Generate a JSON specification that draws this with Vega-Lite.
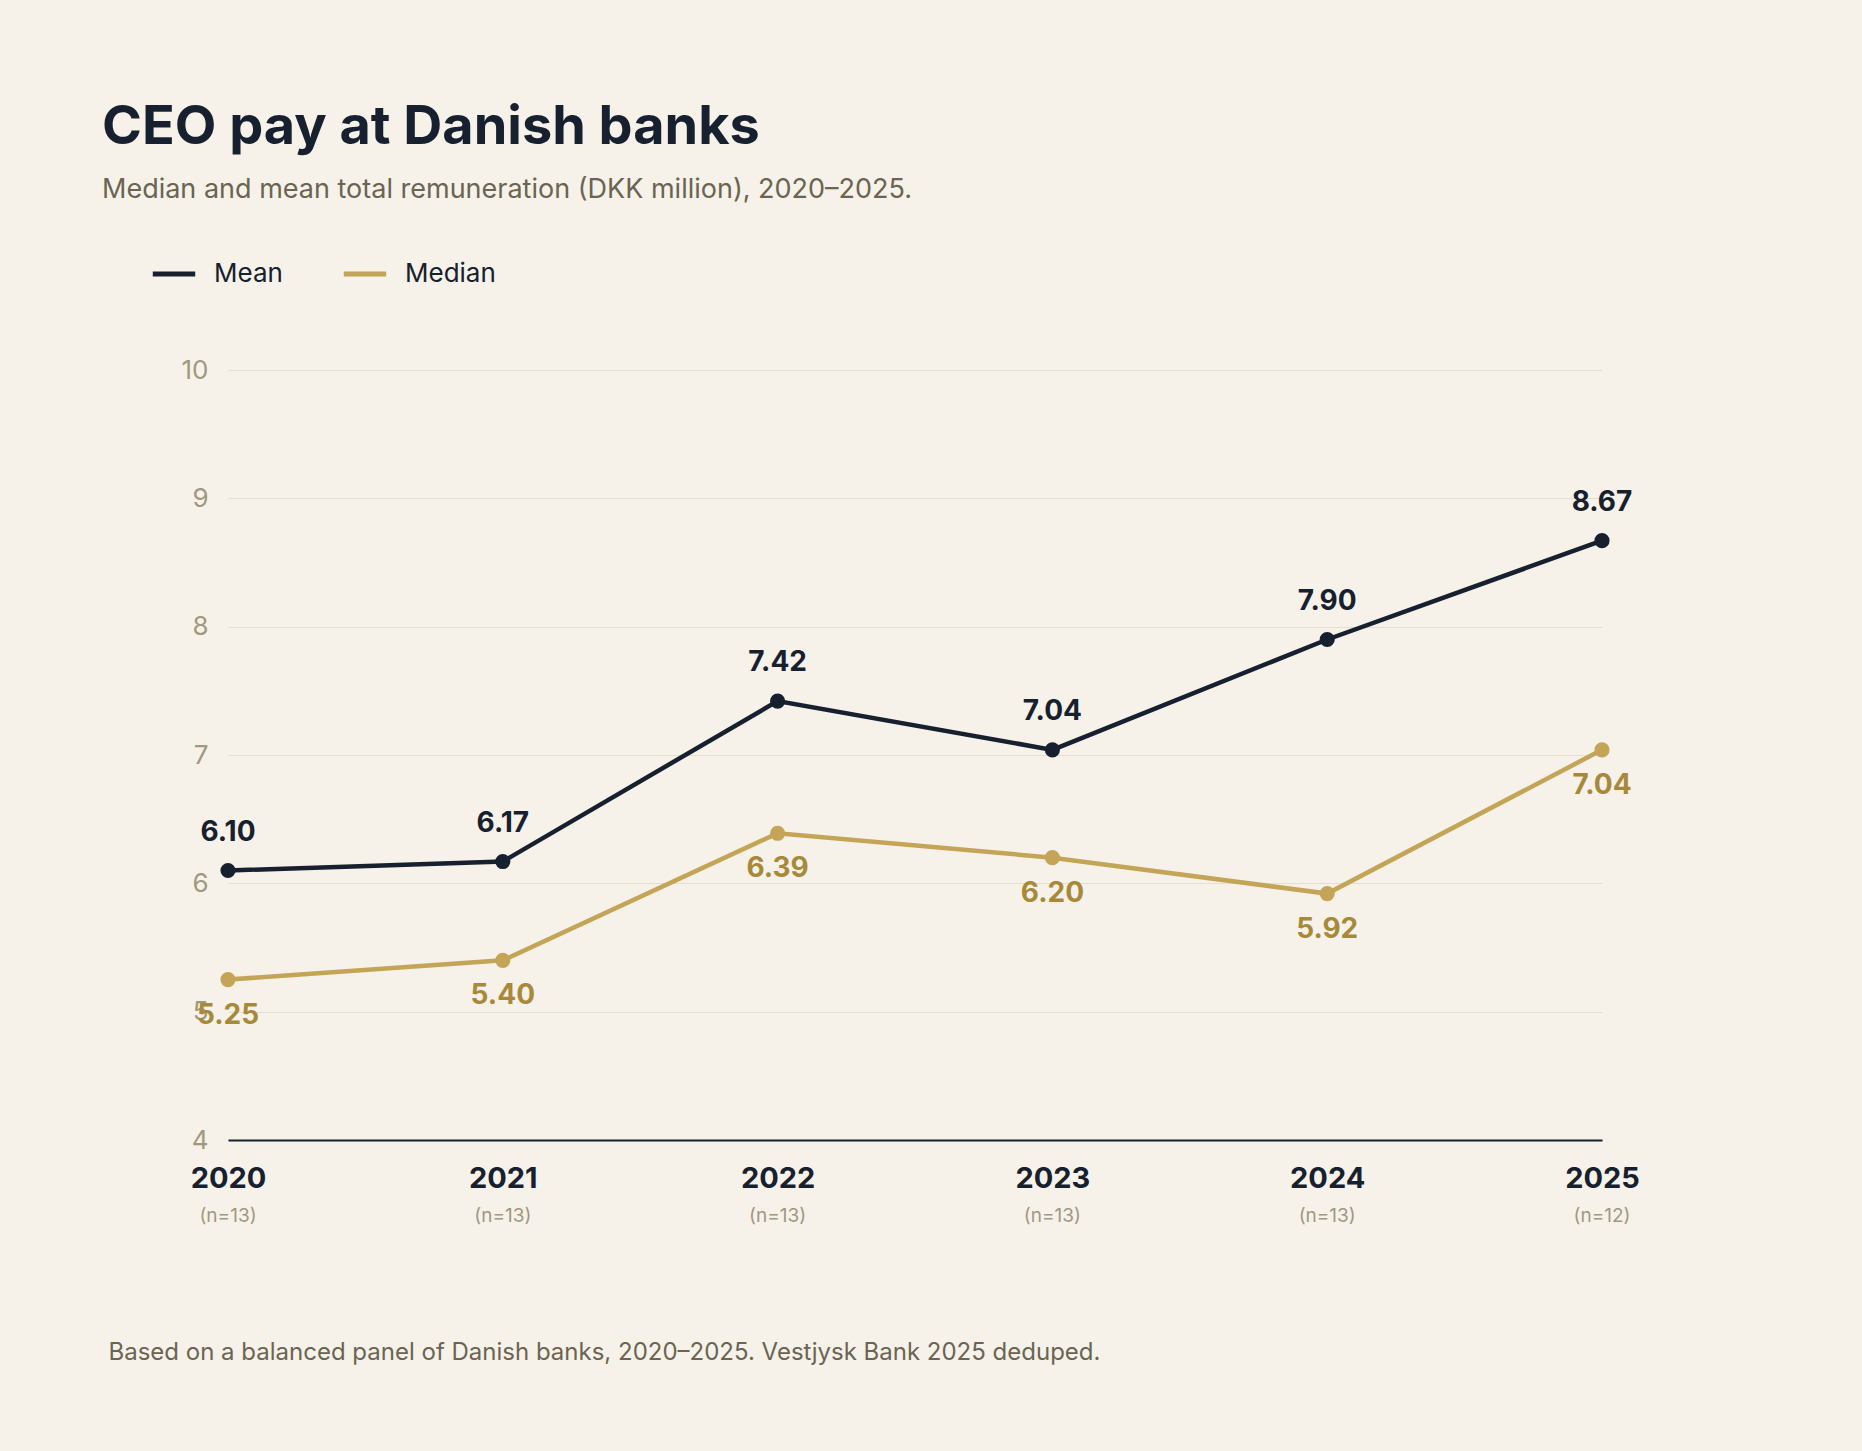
{
  "$schema": "https://vega.github.io/schema/vega-lite/v6.json",
  "autosize": {"type": "none"},
  "width": 1374,
  "height": 770,
  "padding": {"left": 228, "top": 370, "right": 260, "bottom": 311},
  "background": "#f6f2e9",
  "config": {"view": {"stroke": null}, "font": "Inter"},
  "title": {
    "text": "CEO pay at Danish banks",
    "subtitle": "Median and mean total remuneration (DKK million), 2020–2025.",
    "anchor": "start",
    "dx": -6,
    "offset": 47,
    "fontSize": 54,
    "fontWeight": "bold",
    "color": "#17202e",
    "subtitleFontSize": 27,
    "subtitleColor": "#6b6452",
    "subtitlePadding": 22
  },
  "datasets": {
    "pay": [
      {"year": "2020", "series": "Mean", "value": 6.10, "n": "(n=13)"},
      {"year": "2021", "series": "Mean", "value": 6.17, "n": "(n=13)"},
      {"year": "2022", "series": "Mean", "value": 7.42, "n": "(n=13)"},
      {"year": "2023", "series": "Mean", "value": 7.04, "n": "(n=13)"},
      {"year": "2024", "series": "Mean", "value": 7.90, "n": "(n=13)"},
      {"year": "2025", "series": "Mean", "value": 8.67, "n": "(n=12)"},
      {"year": "2020", "series": "Median", "value": 5.25, "n": "(n=13)"},
      {"year": "2021", "series": "Median", "value": 5.40, "n": "(n=13)"},
      {"year": "2022", "series": "Median", "value": 6.39, "n": "(n=13)"},
      {"year": "2023", "series": "Median", "value": 6.20, "n": "(n=13)"},
      {"year": "2024", "series": "Median", "value": 5.92, "n": "(n=13)"},
      {"year": "2025", "series": "Median", "value": 7.04, "n": "(n=12)"}
    ]
  },
  "data": {"name": "pay"},
  "encoding": {
    "x": {
      "field": "year", "type": "ordinal",
      "scale": {"type": "point", "padding": 0},
      "axis": {
        "title": "Based on a balanced panel of Danish banks, 2020–2025. Vestjysk Bank 2025 deduped.",
        "titleX": -120, "titleY": 200, "titleAnchor": "start", "titleAlign": "left",
        "titleFontSize": 24, "titleFontWeight": "normal", "titleColor": "#6b6452",
        "labelAngle": 0, "labelFontSize": 29, "labelFontWeight": "bold", "labelColor": "#17202e",
        "labelPadding": 24, "ticks": false, "domainColor": "#17202e", "domainWidth": 2
      }
    },
    "y": {
      "field": "value", "type": "quantitative",
      "scale": {"domain": [4, 10], "nice": false, "zero": false},
      "axis": {
        "title": null, "values": [4, 5, 6, 7, 8, 9, 10], "domain": false, "ticks": false,
        "labelFontSize": 26, "labelColor": "#a09880", "labelPadding": 20,
        "gridColor": "#e6dfce", "gridWidth": 1.2
      }
    },
    "color": {
      "field": "series", "type": "nominal",
      "scale": {"domain": ["Mean", "Median"], "range": ["#17202e", "#c4a456"]},
      "legend": {
        "title": null, "orient": "none", "legendX": -78, "legendY": -120, "direction": "horizontal",
        "symbolType": "stroke", "symbolStrokeWidth": 5, "symbolSize": 1800,
        "labelFontSize": 26, "labelColor": "#17202e", "columnPadding": 50, "labelOffset": 16
      }
    }
  },
  "layer": [
    {"mark": {"type": "line", "strokeWidth": 4.5}},
    {"mark": {"type": "point", "filled": true, "opacity": 1, "size": 230}},
    {
      "transform": [{"filter": "datum.series === 'Mean'"}],
      "mark": {"type": "text", "dy": -38, "fontSize": 28, "fontWeight": "bold", "color": "#17202e"},
      "encoding": {"text": {"field": "value", "format": ".2f"}, "color": {"value": "#17202e"}}
    },
    {
      "transform": [{"filter": "datum.series === 'Median'"}],
      "mark": {"type": "text", "dy": 36, "fontSize": 28, "fontWeight": "bold"},
      "encoding": {"text": {"field": "value", "format": ".2f"}, "color": {"value": "#a8893a"}}
    },
    {
      "transform": [{"filter": "datum.series === 'Mean'"}],
      "mark": {"type": "text", "dy": 76, "fontSize": 19, "color": "#a09880"},
      "encoding": {"y": {"datum": 4}, "text": {"field": "n"}, "color": {"value": "#a09880"}}
    }
  ]
}
